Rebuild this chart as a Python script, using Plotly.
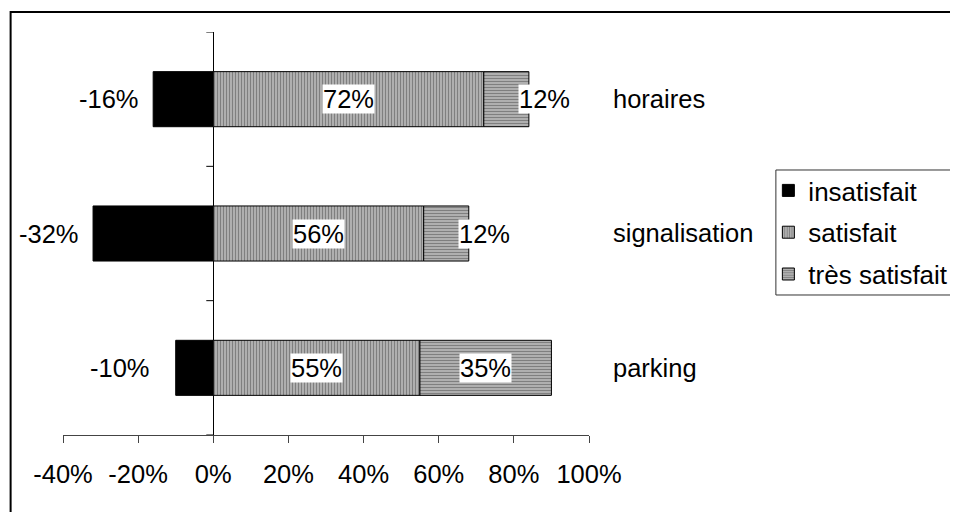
import plotly.graph_objects as go

categories = ["parking", "signalisation", "horaires"]
insatisfait = [-10, -32, -16]
satisfait = [55, 56, 72]
tres_satisfait = [35, 12, 12]
tick_vals = [-40, -20, 0, 20, 40, 60, 80, 100]
tick_text = ["-40%", "-20%", "0%", "20%", "40%", "60%", "80%", "100%"]

FONT = "Liberation Sans, Arial, sans-serif"
FS = 25.5

fig = go.Figure()
fig.add_trace(go.Bar(
    y=categories, x=insatisfait, orientation="h", name="insatisfait",
    marker=dict(color="black", line=dict(color="black", width=1)),
    width=0.41, legendgroup="a", hoverinfo="skip"))
fig.add_trace(go.Bar(
    y=categories, x=satisfait, orientation="h", name="satisfait",
    marker=dict(color="white", line=dict(color="black", width=1),
                pattern=dict(shape="|", fgcolor="black", bgcolor="white", size=3, solidity=0.75)),
    width=0.41, legendgroup="b", hoverinfo="skip"))
fig.add_trace(go.Bar(
    y=categories, x=tres_satisfait, orientation="h", name="très satisfait",
    marker=dict(color="white", line=dict(color="black", width=1),
                pattern=dict(shape="-", fgcolor="black", bgcolor="white", size=3, solidity=0.75)),
    width=0.41, legendgroup="c", hoverinfo="skip"))

annotations = []
for i, cat in enumerate(categories):
    v_in, v_s, v_t = insatisfait[i], satisfait[i], tres_satisfait[i]
    # negative label to the left of the bar
    anchor = min(v_in, -13) - 4
    annotations.append(dict(x=anchor, y=cat, text=f"{v_in}%", showarrow=False,
                            xanchor="right", yanchor="middle", xshift=3,
                            font=dict(family=FONT, size=FS, color="black")))
    annotations.append(dict(x=v_s / 2, y=cat, text=f"{v_s}%", showarrow=False,
                            xanchor="center", yanchor="middle", bgcolor="white", borderpad=0,
                            font=dict(family=FONT, size=FS, color="black")))
    annotations.append(dict(x=v_s + v_t / 2, y=cat, text=f"{v_t}%", showarrow=False,
                            xanchor="center", yanchor="middle", bgcolor="white", borderpad=0,
                            xshift=38 if v_t < 20 else 0,
                            font=dict(family=FONT, size=FS, color="black")))

shapes = []
# y-axis ticks at category boundaries (pointing left from the 0% axis)
for b in [-0.5, 0.5, 1.5, 2.5]:
    shapes.append(dict(type="line", xref="x", yref="y", xsizemode="pixel", xanchor=0,
                       x0=-7, x1=0, y0=b, y1=b, line=dict(color="black", width=1)))
# outer chart border
shapes.append(dict(type="rect", xref="paper", yref="paper", x0=-0.0996, x1=1.9,
                   y0=-0.4, y1=1.0496, line=dict(color="black", width=2), fillcolor="rgba(0,0,0,0)"))
# legend box
shapes.append(dict(type="rect", xref="paper", yref="paper", x0=1.3553, x1=1.9,
                   y0=0.3474, y1=0.6576, line=dict(color="#333", width=1), fillcolor="rgba(0,0,0,0)"))

fig.update_layout(
    width=958, height=512,
    margin=dict(l=55, r=365, t=24, b=85),
    barmode="relative",
    paper_bgcolor="white", plot_bgcolor="white",
    font=dict(family=FONT, size=FS, color="black"),
    showlegend=True,
    legend=dict(x=1.341, xanchor="left", y=0.665, yanchor="top",
                bgcolor="rgba(0,0,0,0)", borderwidth=0,
                font=dict(family=FONT, size=26, color="black"),
                traceorder="grouped", tracegroupgap=5, itemwidth=30),
    xaxis=dict(range=[-40, 100], tickvals=tick_vals, ticktext=tick_text,
               showgrid=False, zeroline=True, zerolinecolor="black", zerolinewidth=1,
               showline=True, linecolor="#444", linewidth=1,
               ticks="outside", ticklen=7, tickcolor="#444", ticklabelstandoff=9,
               tickfont=dict(family=FONT, size=FS, color="black")),
    yaxis=dict(type="category", categoryorder="array", categoryarray=categories,
               range=[-0.5, 2.5], side="right", showgrid=False, zeroline=False,
               showline=False, ticks="", ticklabelstandoff=23,
               tickfont=dict(family=FONT, size=FS, color="black")),
    annotations=annotations,
    shapes=shapes,
)

fig.write_html("out.html")
